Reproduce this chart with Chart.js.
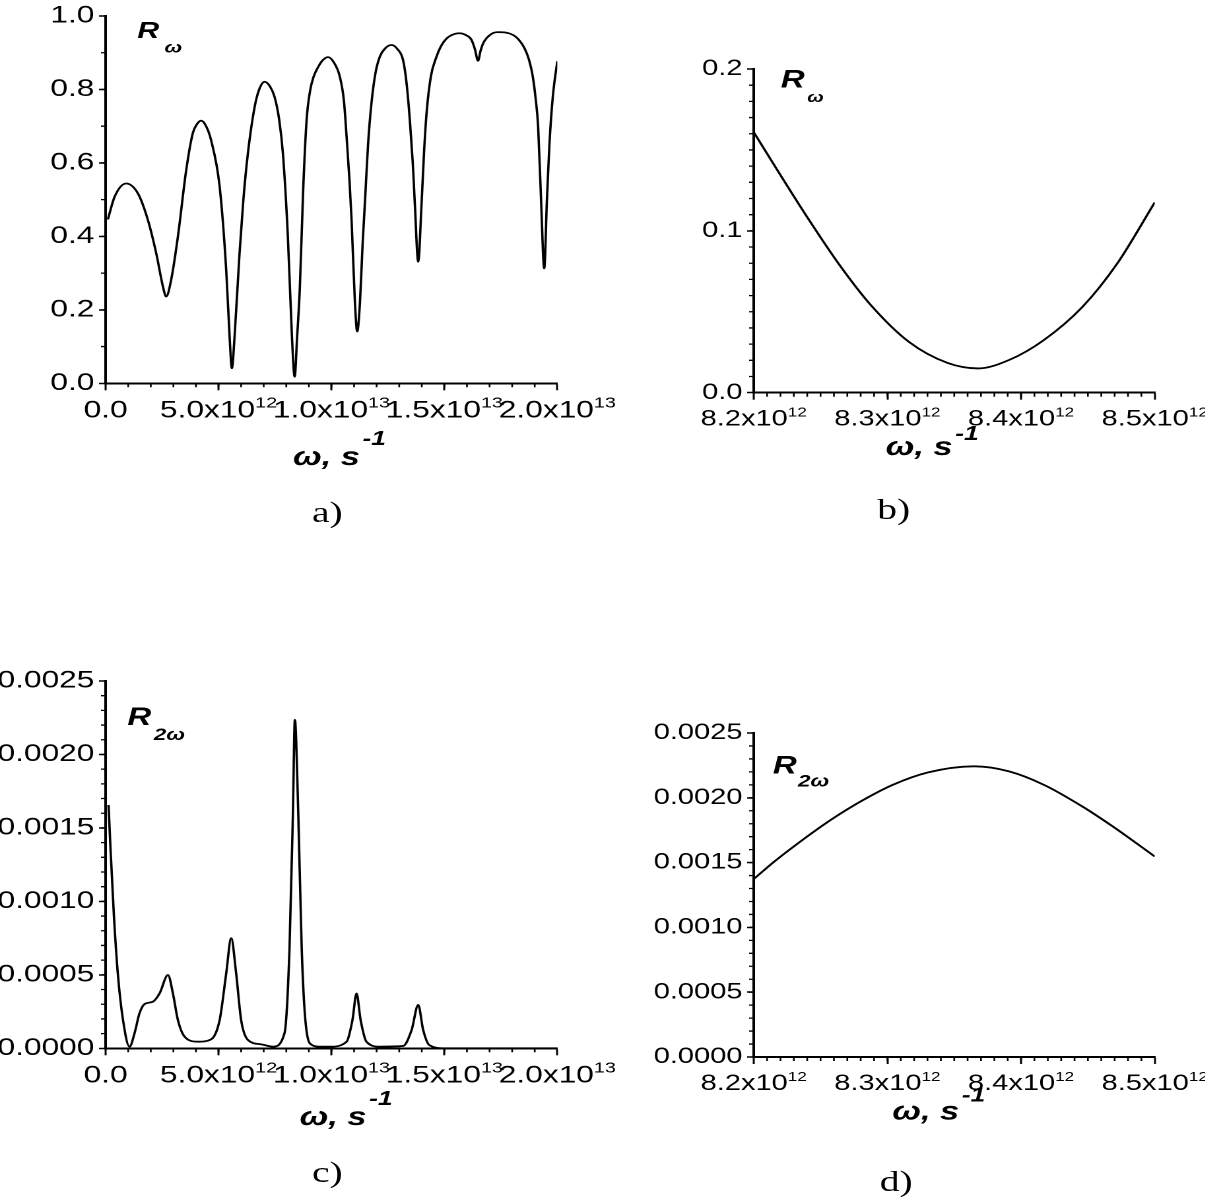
<!DOCTYPE html>
<html>
<head>
<meta charset="utf-8">
<title>R omega / R 2omega</title>
<script src="https://cdn.jsdelivr.net/npm/chart.js@4.4.1/dist/chart.umd.min.js"></script>
<style>
  html, body { margin: 0; padding: 0; background: #fff; overflow: hidden; }
  /* the reference figure is stretched sideways, so the whole sheet is too */
  #sheet { position: absolute; left: 0; top: 0; width: 913px; height: 1201px;
           transform: scaleX(1.32); transform-origin: 0 0; }
  #sheet canvas { position: absolute; }
  .cap { position: absolute; font-family: 'Liberation Serif', 'Times New Roman', serif;
         font-size: 30px; line-height: 30px; color: #000; white-space: nowrap;
         transform: translateX(-50%); }
</style>
</head>
<body>
<div id="sheet">
  <canvas id="chartA"></canvas>
  <canvas id="chartB"></canvas>
  <canvas id="chartC"></canvas>
  <canvas id="chartD"></canvas>
  <div class="cap" style="left:248px; top:497px">a)</div>
  <div class="cap" style="left:677px; top:494px">b)</div>
  <div class="cap" style="left:248px; top:1157px">c)</div>
  <div class="cap" style="left:679px; top:1166px">d)</div>
</div>
<script>
// ---- data (omega in s^-1) ----
var omegaA = [0.10e12, 0.40e12, 0.91e12, 1.43e12, 1.87e12, 2.24e12, 2.54e12, 2.68e12, 2.90e12, 3.20e12,
  3.57e12, 3.86e12, 4.05e12, 4.23e12, 4.45e12, 4.67e12, 5.05e12, 5.34e12, 5.49e12, 5.59e12,
  5.71e12, 5.93e12, 6.10e12, 6.30e12, 6.60e12, 6.80e12, 7.04e12, 7.28e12, 7.48e12, 7.68e12,
  7.85e12, 8.07e12, 8.25e12, 8.37e12, 8.48e12, 8.60e12, 8.75e12, 8.90e12, 9.05e12, 9.20e12,
  9.40e12, 9.62e12, 9.85e12, 10.10e12, 10.37e12, 10.55e12, 10.67e12, 10.80e12, 10.89e12, 11.04e12,
  11.14e12, 11.26e12, 11.38e12, 11.48e12, 11.62e12, 11.77e12, 11.95e12, 12.14e12, 12.38e12, 12.66e12,
  12.92e12, 13.17e12, 13.32e12, 13.47e12, 13.60e12, 13.69e12, 13.84e12, 13.99e12, 14.10e12, 14.21e12,
  14.40e12, 14.65e12, 14.85e12, 15.10e12, 15.40e12, 15.68e12, 15.95e12, 16.20e12, 16.35e12, 16.49e12,
  16.60e12, 16.72e12, 17.01e12, 17.37e12, 17.70e12, 18.05e12, 18.30e12, 18.55e12, 18.75e12, 18.90e12,
  19.05e12, 19.15e12, 19.28e12, 19.42e12, 19.54e12, 19.65e12, 19.80e12, 20.0e12];
var rA = [0.446, 0.508, 0.544, 0.517, 0.445, 0.354, 0.263, 0.236, 0.281, 0.399,
  0.581, 0.681, 0.706, 0.715, 0.700, 0.662, 0.535, 0.308, 0.127, 0.041,
  0.127, 0.354, 0.500, 0.626, 0.753, 0.800, 0.821, 0.808, 0.780, 0.720,
  0.626, 0.399, 0.127, 0.018, 0.127, 0.260, 0.530, 0.717, 0.795, 0.833,
  0.860, 0.880, 0.888, 0.874, 0.835, 0.770, 0.671, 0.550, 0.445, 0.218,
  0.141, 0.218, 0.380, 0.490, 0.650, 0.762, 0.845, 0.889, 0.912, 0.921,
  0.910, 0.880, 0.820, 0.717, 0.600, 0.490, 0.331, 0.490, 0.630, 0.735,
  0.835, 0.889, 0.918, 0.939, 0.950, 0.953, 0.948, 0.935, 0.910, 0.878,
  0.905, 0.926, 0.948, 0.956, 0.955, 0.948, 0.935, 0.912, 0.880, 0.840,
  0.770, 0.700, 0.500, 0.313, 0.500, 0.650, 0.780, 0.877];

var omegaB = [8.2e12, 8.2179e12, 8.241e12, 8.2641e12, 8.2872e12, 8.3161e12, 8.345e12,
  8.368e12, 8.391e12, 8.417e12, 8.446e12, 8.472e12, 8.5e12];
var rB = [0.161, 0.1372, 0.1072, 0.079, 0.0545, 0.0314, 0.0184,
  0.015, 0.0202, 0.0325, 0.0531, 0.0799, 0.1176];

var omegaC = [0.13e12, 0.22e12, 0.37e12, 0.54e12, 0.77e12, 1.06e12, 1.28e12, 1.50e12, 1.73e12, 2.09e12,
  2.39e12, 2.76e12, 2.98e12, 3.20e12, 3.50e12, 4.09e12, 4.67e12, 5.05e12, 5.34e12, 5.56e12,
  5.78e12, 6.00e12, 6.30e12, 6.89e12, 7.41e12, 7.92e12, 8.14e12, 8.29e12, 8.38e12, 8.53e12,
  8.68e12, 8.82e12, 9.04e12, 9.49e12, 9.93e12, 10.67e12, 10.93e12, 11.11e12, 11.29e12, 11.55e12,
  12.14e12, 13.17e12, 13.55e12, 13.84e12, 14.06e12, 14.33e12, 15.0e12, 20.0e12];
var r2C = [0.001656, 0.00135, 0.000896, 0.00051, 0.000193, 0.000011, 0.000102, 0.000238, 0.000302, 0.000317,
  0.000374, 0.000499, 0.000374, 0.000193, 0.000079, 0.000045, 0.000061, 0.000193, 0.00051, 0.000749,
  0.00051, 0.000193, 0.000057, 0.000027, 0.000011, 0.000102, 0.000669, 0.00158, 0.002235, 0.0016,
  0.000692, 0.000238, 0.000034, 0.000011, 0.000011, 0.000045, 0.000193, 0.000374, 0.000193, 0.000045,
  0.000011, 0.000016, 0.000125, 0.000295, 0.000125, 0.000022, 0.0, 0.0];

var omegaD = [8.2e12, 8.215e12, 8.2352e12, 8.2583e12, 8.2814e12, 8.3045e12, 8.3305e12,
  8.3651e12, 8.391e12, 8.4171e12, 8.446e12, 8.469e12, 8.5e12];
var r2D = [0.001373, 0.001505, 0.001665, 0.001834, 0.00198, 0.002102, 0.002196,
  0.002243, 0.002204, 0.0021, 0.001932, 0.001776, 0.001547];

// tick labels ("^" marks the exponent)
var xTicksWide = ['0.0', '5.0x10^12', '1.0x10^13', '1.5x10^13', '2.0x10^13'];
var xTicksZoom = ['8.2x10^12', '8.3x10^12', '8.4x10^12', '8.5x10^12'];
var yTicksA = ['0.0', '0.2', '0.4', '0.6', '0.8', '1.0'];
var yTicksB = ['0.0', '0.1', '0.2'];
var yTicksCD = ['0.0000', '0.0005', '0.0010', '0.0015', '0.0020', '0.0025'];

var FONT = "'Liberation Sans', Arial, sans-serif";

// small ticks between the labelled ones
function minorTicksPlugin(xStep, yStep) {
  return {
    id: 'minorTicks',
    afterDraw: function (chart) {
      var ctx = chart.ctx, xs = chart.scales.x, ys = chart.scales.y, i, n;
      ctx.save();
      ctx.strokeStyle = '#000';
      ctx.lineWidth = 1.3;
      ctx.beginPath();
      n = Math.round((xs.max - xs.min) / xStep);
      for (i = 1; i < n; i++) {
        var px = xs.getPixelForValue(xs.min + i * xStep);
        ctx.moveTo(px, xs.top);
        ctx.lineTo(px, xs.top + 4);
      }
      n = Math.round((ys.max - ys.min) / yStep);
      for (i = 1; i < n; i++) {
        var py = ys.getPixelForValue(ys.min + i * yStep);
        ctx.moveTo(ys.right, py);
        ctx.lineTo(ys.right - 3.5, py);
      }
      ctx.stroke();
      ctx.restore();
    }
  };
}

// x tick labels with a raised exponent, placed at the scale's own tick pixels
function expTicksPlugin(labels, t) {
  return {
    id: 'expTicks',
    afterDraw: function (chart) {
      var ctx = chart.ctx, xs = chart.scales.x;
      var mainFont = t.main + 'px ' + FONT, supFont = t.sup + 'px ' + FONT;
      ctx.save();
      ctx.fillStyle = '#000';
      ctx.textAlign = 'left';
      ctx.textBaseline = 'alphabetic';
      xs.ticks.forEach(function (tick, i) {
        var parts = labels[i].split('^');
        ctx.font = mainFont;
        var wm = ctx.measureText(parts[0]).width;
        ctx.font = supFont;
        var ws = parts[1] ? ctx.measureText(parts[1]).width : 0;
        var x0 = xs.getPixelForTick(i) - (wm + ws) / 2;
        ctx.font = mainFont;
        ctx.fillText(parts[0], x0, xs.top + t.mainY);
        if (parts[1]) {
          ctx.font = supFont;
          ctx.fillText(parts[1], x0 + wm, xs.top + t.supY);
        }
      });
      ctx.restore();
    }
  };
}

// text with sub/superscripts (R_w label, axis title)
function textPlugin(items) {
  return {
    id: 'richText',
    afterDraw: function (chart) {
      var ctx = chart.ctx, area = chart.chartArea;
      ctx.save();
      ctx.fillStyle = '#000';
      ctx.textBaseline = 'alphabetic';
      items.forEach(function (it) {
        var x = area.left + it.x;
        var y = (it.from === 'bottom' ? area.bottom : area.top) + it.y;
        it.parts.forEach(function (p) {
          ctx.font = p.font;
          x += p.dx || 0;
          ctx.fillText(p.text, x, y + (p.dy || 0));
          x += ctx.measureText(p.text).width;
        });
      });
      ctx.restore();
    }
  };
}

function rLabel(x, y, size, sub, subSize, dx, dy) {
  return { x: x, y: y, from: 'top', parts: [
    { text: 'R', font: 'bold italic ' + size + 'px ' + FONT },
    { text: sub, font: 'bold italic ' + subSize + 'px ' + FONT, dx: dx, dy: dy }
  ] };
}

function axisTitle(x, y, supDy) {
  return { x: x, y: y, from: 'bottom', parts: [
    { text: '\u03C9, ', font: 'bold italic 26px ' + FONT },
    { text: 's', font: 'bold italic 26px ' + FONT },
    { text: '-1', font: 'bold italic 20px ' + FONT, dx: 2, dy: supDy }
  ] };
}

function makePanel(id, frame, p) {
  var cv = document.getElementById(id);
  var plotW = frame.right - frame.left, plotH = frame.bottom - frame.top;
  var w = Math.round(plotW + 130), h = Math.round(plotH + 170);
  cv.width = w;
  cv.height = h;
  cv.style.left = (frame.left - 80) + 'px';
  cv.style.top = (frame.top - 20) + 'px';

  var pts = p.xs.map(function (x, i) { return { x: x, y: p.ys[i] }; });

  return new Chart(cv, {
    type: 'line',
    data: { datasets: [{
      data: pts,
      borderColor: '#000',
      borderWidth: 1.8,
      pointRadius: 0,
      fill: false,
      cubicInterpolationMode: 'monotone'
    }] },
    options: {
      responsive: false,
      animation: false,
      devicePixelRatio: 2,
      layout: { padding: { left: 0, top: 20, right: w - 80 - plotW, bottom: h - 20 - plotH - 60 } },
      plugins: { legend: { display: false }, tooltip: { enabled: false } },
      scales: {
        x: {
          type: 'linear', min: p.xMin, max: p.xMax,
          afterFit: function (s) { s.height = 60; },
          border: { color: '#000', width: 2 },
          grid: { drawOnChartArea: false, tickLength: 7, tickColor: '#000', tickWidth: 1.5 },
          ticks: { stepSize: p.xStep, autoSkip: false, display: false }
        },
        y: {
          min: p.yMin, max: p.yMax,
          afterFit: function (s) { s.width = 80; },
          border: { color: '#000', width: 2 },
          grid: { drawOnChartArea: false, tickLength: 5, tickColor: '#000', tickWidth: 1.5 },
          ticks: {
            stepSize: p.yStep, autoSkip: false, padding: 3.5,
            color: '#000', font: { family: FONT, size: p.yFont },
            callback: function (v, i) { return p.yLabels[i]; }
          }
        }
      }
    },
    plugins: [minorTicksPlugin(p.xMinor, p.yMinor), expTicksPlugin(p.xLabels, p.xFont), textPlugin(p.texts)]
  });
}

var wideTickFont = { main: 24, sup: 15, mainY: 34, supY: 24 };
var zoomTickFont = { main: 22, sup: 13, mainY: 33, supY: 24 };

makePanel('chartA', { left: 80.1, top: 16, right: 422.3, bottom: 383.3 }, {
  xs: omegaA, ys: rA,
  xMin: 0, xMax: 2e13, xStep: 5e12, xMinor: 1e12, xLabels: xTicksWide, xFont: wideTickFont,
  yMin: 0, yMax: 1, yStep: 0.2, yMinor: 0.1, yLabels: yTicksA, yFont: 24,
  texts: [rLabel(24, 22, 23, '\u03C9', 16, 4, 14.4), axisTitle(142, 81.7, -20)]
});

makePanel('chartB', { left: 571, top: 69, right: 874.8, bottom: 392.7 }, {
  xs: omegaB, ys: rB,
  xMin: 8.2e12, xMax: 8.5e12, xStep: 1e11, xMinor: 1e10, xLabels: xTicksZoom, xFont: zoomTickFont,
  yMin: 0, yMax: 0.2, yStep: 0.1, yMinor: 0.01, yLabels: yTicksB, yFont: 22,
  texts: [rLabel(20.5, 18.5, 25, '\u03C9', 15, 2, 14.4), axisTitle(100, 62.3, -15)]
});

makePanel('chartC', { left: 80.1, top: 681, right: 422.3, bottom: 1048.3 }, {
  xs: omegaC, ys: r2C,
  xMin: 0, xMax: 2e13, xStep: 5e12, xMinor: 1e12, xLabels: xTicksWide, xFont: wideTickFont,
  yMin: 0, yMax: 0.0025, yStep: 0.0005, yMinor: 0.0001, yLabels: yTicksCD, yFont: 24,
  texts: [rLabel(16.5, 44, 25, '2\u03C9', 17, 2, 15), axisTitle(147, 76.7, -20)]
});

makePanel('chartD', { left: 571, top: 733.3, right: 874.8, bottom: 1057.3 }, {
  xs: omegaD, ys: r2D,
  xMin: 8.2e12, xMax: 8.5e12, xStep: 1e11, xMinor: 1e10, xLabels: xTicksZoom, xFont: zoomTickFont,
  yMin: 0, yMax: 0.0025, yStep: 0.0005, yMinor: 0.0001, yLabels: yTicksCD, yFont: 22,
  texts: [rLabel(14.5, 40.7, 25, '2\u03C9', 17, 1, 13), axisTitle(105, 62.7, -18)]
});
</script>
</body>
</html>
